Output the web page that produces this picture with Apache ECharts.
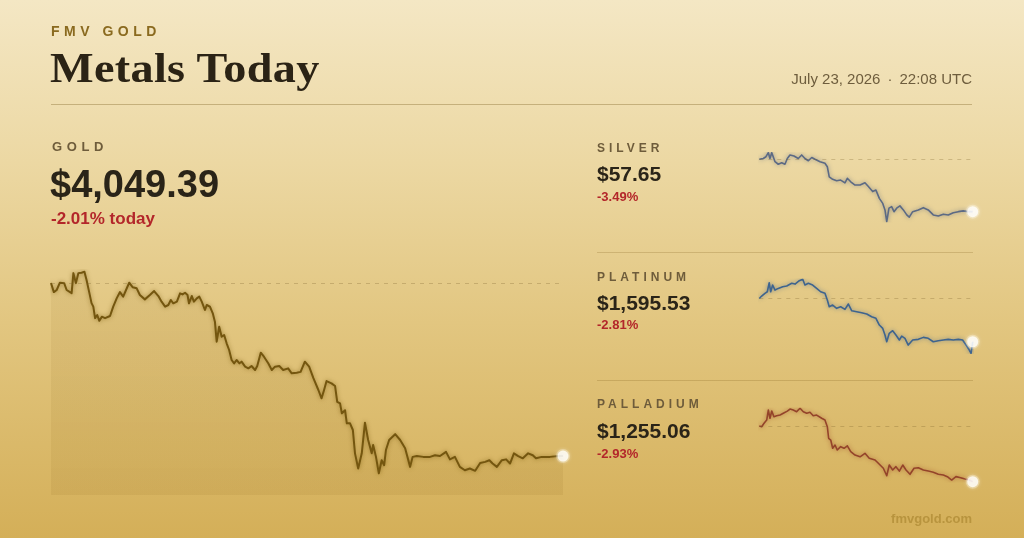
<!DOCTYPE html>
<html>
<head>
<meta charset="utf-8">
<script src="https://cdn.jsdelivr.net/npm/echarts@6/dist/echarts.min.js"></script>
<style>
  html, body { margin:0; padding:0; width:1024px; height:538px; overflow:hidden; }
  body { background: linear-gradient(180deg, #f4e7c4 0%, #ecd8a3 30%, #e2c680 60%, #d4af58 100%); font-family: "Liberation Sans", Arial, sans-serif; position:relative; }
  #chart { position:absolute; left:0; top:0; width:1024px; height:538px; }
  .t { position:absolute; white-space:nowrap; line-height:1; }
  .brand { left:51px; top:24px; font-size:14px; font-weight:bold; letter-spacing:4.5px; color:#8a6a1f; }
  .title { left:50px; top:47px; font-family:"Liberation Serif", serif; font-size:42px; font-weight:bold; letter-spacing:0.3px; color:#2b2315; transform:scaleX(1.1); transform-origin:0 0; }
  .date { right:52px; top:70.6px; font-size:15px; color:#6e5d3d; }
  .date .dot { margin:0 7px; }
  .rule { position:absolute; left:51px; top:104px; width:921px; height:1px; background:rgba(120,92,30,0.35); }
  .sep { position:absolute; left:597px; width:376px; height:1px; background:rgba(130,98,30,0.25); }
  .lbl { font-weight:bold; color:#6e5c3b; }
  .price { font-weight:bold; color:#2a2418; }
  .pct { font-weight:bold; color:#b3262a; }
  .foot { right:52px; top:511.7px; font-size:13px; font-weight:bold; color:#b8943e; }
</style>
</head>
<body>
<div id="chart"></div>
<div class="t brand">FMV GOLD</div>
<div class="t title">Metals Today</div>
<div class="t date">July 23, 2026<span class="dot">·</span>22:08 UTC</div>
<div class="rule"></div>

<div class="t lbl" style="left:52px;top:140px;font-size:13px;letter-spacing:4.6px;">GOLD</div>
<div class="t price" style="left:50px;top:164.8px;font-size:38px;">$4,049.39</div>
<div class="t pct" style="left:51px;top:210px;font-size:17px;">-2.01% today</div>

<div class="t lbl" style="left:597px;top:141.8px;font-size:12px;letter-spacing:4px;">SILVER</div>
<div class="t price" style="left:597px;top:162.9px;font-size:21px;">$57.65</div>
<div class="t pct" style="left:597px;top:190px;font-size:13px;">-3.49%</div>
<div class="sep" style="top:252px;"></div>

<div class="t lbl" style="left:597px;top:270.5px;font-size:12px;letter-spacing:4px;">PLATINUM</div>
<div class="t price" style="left:597px;top:291.5px;font-size:21px;">$1,595.53</div>
<div class="t pct" style="left:597px;top:318.3px;font-size:13px;">-2.81%</div>
<div class="sep" style="top:380px;"></div>

<div class="t lbl" style="left:597px;top:398.1px;font-size:12px;letter-spacing:4px;">PALLADIUM</div>
<div class="t price" style="left:597px;top:419.9px;font-size:21px;">$1,255.06</div>
<div class="t pct" style="left:597px;top:446.7px;font-size:13px;">-2.93%</div>

<div class="t foot">fmvgold.com</div>

<script>
// minutes since open
const goldT = [0,8,16,25,37,44,58,63,70,74,77,86,94,100,108,114,119,124,130,136,143,152,166,175,185,194,203,211,220,230,241,250,264,278,290,302,311,321,330,337,344,354,363,370,377,384,388,396,402,410,417,424,433,438,447,455,461,466,473,480,487,494,501,508,515,522,530,536,546,555,564,574,580,590,599,611,621,630,642,653,667,677,691,702,714,726,738,752,761,768,775,789,799,805,813,818,827,832,841,849,855,864,874,883,892,902,906,914,922,930,937,942,951,968,982,996,1010,1017,1029,1047,1066,1080,1094,1111,1122,1136,1150,1164,1178,1193,1207,1221,1233,1242,1254,1268,1280,1291,1302,1314,1327,1342,1355,1364,1380,1403,1427,1440];
const goldV = [4132.45,4128.1,4129.1,4132.6,4132.4,4129.1,4127.6,4137.2,4132.4,4131.5,4137.2,4137.4,4137.9,4133.9,4127.6,4122.8,4121.1,4115.6,4117.1,4114.3,4116.3,4115.6,4116.6,4121.1,4125.2,4128.1,4125.9,4129.1,4132.6,4130.4,4129.9,4126.7,4124.6,4126.7,4128.6,4126.2,4123.5,4121.1,4121.9,4124.3,4122.7,4123.5,4127.5,4127.0,4127.8,4126.7,4122.7,4126.2,4123.5,4125.1,4125.9,4123.5,4119.5,4121.9,4121.1,4117.9,4113.9,4104.3,4111.5,4106.7,4107.5,4103.5,4100.3,4095.5,4093.9,4095.5,4093.9,4094.7,4092.3,4091.5,4092.6,4090.7,4092.6,4099.0,4097.1,4093.9,4090.7,4092.3,4092.6,4090.7,4091.5,4089.1,4089.4,4089.8,4094.7,4092.3,4086.8,4081.1,4077.1,4081.1,4085.4,4084.3,4083.0,4075.4,4074.7,4069.9,4071.4,4065.1,4065.1,4061.9,4050.7,4043.4,4050.7,4065.4,4057.1,4050.7,4054.7,4049.0,4041.1,4047.4,4045.0,4052.3,4057.1,4059.9,4057.1,4053.1,4044.2,4049.0,4049.4,4049.0,4049.0,4049.8,4049.4,4051.4,4047.8,4049.0,4044.2,4042.6,4043.4,4042.3,4046.1,4046.6,4047.4,4045.8,4044.2,4047.4,4047.8,4045.8,4050.7,4049.4,4048.3,4050.7,4049.8,4048.3,4049.0,4049.0,4049.4,4049.39];

const silverT = [0,27,45,61,72,84,94,106,128,151,173,189,207,234,263,286,308,331,354,376,410,443,459,472,495,522,549,578,594,617,646,680,713,736,765,787,810,833,848,860,875,893,909,927,949,972,995,1012,1035,1073,1107,1140,1174,1208,1242,1275,1309,1343,1376,1410,1440];
const silverV = [59.74,59.77,59.84,60.00,59.77,60.00,59.84,59.64,59.54,59.60,59.54,59.77,59.91,59.87,59.77,59.91,59.77,59.68,59.81,59.74,59.64,59.58,59.44,59.04,58.94,58.88,58.91,58.80,58.98,58.84,58.71,58.71,58.80,58.65,58.45,58.51,58.18,57.98,57.72,57.25,57.79,57.85,57.65,57.79,57.88,57.72,57.52,57.43,57.65,57.72,57.81,57.72,57.52,57.48,57.55,57.52,57.61,57.65,57.68,57.65,57.65];

const platT = [0,16,38,54,67,77,90,106,128,158,185,219,241,270,293,308,331,360,387,414,443,459,472,495,522,549,578,601,624,657,691,725,758,787,810,833,848,860,877,900,922,945,961,983,1005,1035,1073,1107,1140,1174,1208,1242,1275,1309,1343,1372,1395,1417,1429,1440];
const platV = [1641.66,1644.3,1647.2,1648.9,1658.5,1648.9,1656.1,1650.7,1652.5,1654.3,1655.0,1657.9,1657.1,1660.7,1662.2,1656.1,1657.9,1656.1,1652.6,1648.9,1647.2,1640.1,1632.9,1634.7,1631.2,1632.9,1630.1,1635.8,1628.6,1627.6,1626.5,1625.1,1622.2,1620.5,1613.4,1609.8,1602.7,1595.5,1604.5,1607.3,1602.7,1597.4,1601.6,1599.2,1592.0,1597.4,1598.1,1600.2,1599.2,1595.5,1596.6,1597.4,1598.1,1597.4,1598.1,1597.4,1592.0,1586.7,1583.2,1595.53];

const pallT = [0,16,32,50,61,72,84,99,117,140,162,189,207,229,252,275,297,320,342,364,387,421,443,459,468,482,495,511,526,549,572,594,617,646,680,713,742,781,810,837,860,877,900,922,945,968,990,1017,1044,1073,1107,1140,1174,1208,1242,1269,1298,1327,1359,1388,1417,1440];
const pallV = [1292.94,1292.5,1294.8,1297.0,1303.8,1298.2,1303.1,1299.3,1299.9,1300.4,1301.6,1303.1,1304.5,1303.8,1302.7,1305.0,1302.7,1301.6,1302.3,1299.9,1300.4,1298.2,1297.0,1292.5,1284.6,1283.4,1277.8,1280.0,1276.6,1278.9,1277.8,1279.5,1275.5,1273.2,1272.0,1274.4,1271.0,1269.8,1266.9,1264.2,1259.1,1266.4,1263.0,1265.3,1262.3,1266.4,1263.0,1260.1,1264.2,1264.6,1263.0,1262.3,1261.5,1260.1,1259.6,1258.5,1256.2,1258.5,1257.8,1256.9,1256.2,1255.06];

const zip = (t, v) => t.map((x, i) => [x, v[i]]);

const panels = [
  { t: goldT, v: goldV, color: '#74560f', glow: 'rgba(110,80,10,0.55)', width: 2, grid: { left: 51, top: 270, width: 512, height: 225 }, yMin: 4030.7, yMax: 4138.7, area: true },
  { t: silverT, v: silverV, color: '#5c6a84', glow: 'rgba(80,95,125,0.6)', width: 1.6, grid: { left: 759.3, top: 152.7, width: 213.4, height: 69 }, yMin: 'dataMin', yMax: 'dataMax' },
  { t: platT, v: platV, color: '#3e648e', glow: 'rgba(60,95,140,0.6)', width: 1.6, grid: { left: 759.3, top: 279.3, width: 213.4, height: 74 }, yMin: 'dataMin', yMax: 'dataMax' },
  { t: pallT, v: pallV, color: '#94442a', glow: 'rgba(150,65,35,0.6)', width: 1.6, grid: { left: 759.3, top: 408.3, width: 213.4, height: 73.4 }, yMin: 'dataMin', yMax: 'dataMax' }
];

const chart = echarts.init(document.getElementById('chart'), null, { renderer: 'canvas' });
const grids = [], xAxes = [], yAxes = [], series = [];
panels.forEach((p, i) => {
  grids.push(Object.assign({ containLabel: false }, p.grid));
  xAxes.push({ type: 'value', gridIndex: i, min: 0, max: 1440, show: false });
  yAxes.push({ type: 'value', gridIndex: i, min: p.yMin, max: p.yMax, scale: true, show: false });
  const data = zip(p.t, p.v);
  series.push({
    type: 'line', xAxisIndex: i, yAxisIndex: i, data: data,
    showSymbol: false, symbol: 'none', smooth: false, silent: true,
    lineStyle: { color: p.color, width: p.width, shadowBlur: 4, shadowColor: p.glow, join: 'round' },
    areaStyle: p.area ? { color: new echarts.graphic.LinearGradient(0, 0, 0, 1, [
      { offset: 0, color: 'rgba(130,92,15,0.10)' }, { offset: 1, color: 'rgba(130,92,15,0.13)' }]), origin: 'start' } : undefined,
    markLine: {
      silent: true, symbol: ['none', 'none'], label: { show: false },
      lineStyle: { type: [4, 5], color: 'rgba(120,92,40,0.28)', width: 1 },
      data: [{ yAxis: p.v[0] }]
    },
    z: 2
  });
  series.push({
    type: 'scatter', xAxisIndex: i, yAxisIndex: i, data: [data[data.length - 1]],
    symbol: 'circle', symbolSize: 11, silent: true,
    itemStyle: { color: '#ffffff', borderColor: 'rgba(255,252,240,0.38)', borderWidth: 3, shadowBlur: 4, shadowColor: 'rgba(255,255,255,0.5)' },
    z: 5
  });
});

chart.setOption({
  animation: false,
  backgroundColor: 'transparent',
  grid: grids, xAxis: xAxes, yAxis: yAxes, series: series
});
</script>
</body>
</html>
